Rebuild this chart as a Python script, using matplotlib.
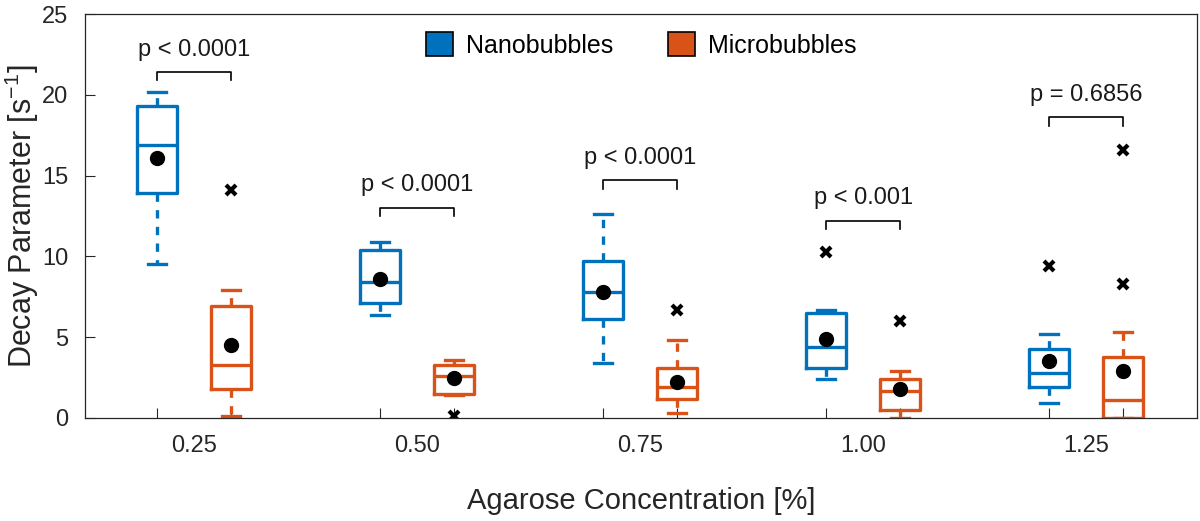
import matplotlib
matplotlib.use("Agg")
from matplotlib import pyplot as plt
from matplotlib.patches import Patch
import numpy as np

plt.rcParams["font.family"] = ["Liberation Sans", "DejaVu Sans"]

# ----------------------
# Data
# ----------------------
concentrations = ["0.25", "0.50", "0.75", "1.00", "1.25"]

nano_whislo = [9.5, 6.4, 3.4, 2.4, 0.9]
nano_q1 = [13.9, 7.1, 6.1, 3.1, 1.9]
nano_med = [16.9, 8.4, 7.8, 4.4, 2.8]
nano_q3 = [19.3, 10.4, 9.7, 6.5, 4.3]
nano_whishi = [20.2, 10.9, 12.6, 6.7, 5.2]
nano_mean = [16.1, 8.6, 7.8, 4.9, 3.5]
nano_fliers = [[], [], [], [10.3], [9.4]]

micro_whislo = [0.1, 1.4, 0.3, 0.0, 0.0]
micro_q1 = [1.8, 1.5, 1.2, 0.5, 0.0]
micro_med = [3.3, 2.6, 1.9, 1.7, 1.1]
micro_q3 = [6.9, 3.3, 3.1, 2.4, 3.8]
micro_whishi = [7.9, 3.6, 4.8, 2.9, 5.3]
micro_mean = [4.5, 2.5, 2.2, 1.8, 2.9]
micro_fliers = [[14.1], [0.1], [6.7], [6.0], [16.6, 8.3]]

p_labels = ["p < 0.0001", "p < 0.0001", "p < 0.0001", "p < 0.001", "p = 0.6856"]
bracket_y = [21.4, 13.0, 14.7, 12.2, 18.6]

blue = "#0072BD"
orange = "#D95319"

# ----------------------
# Plotting
# ----------------------
fig = plt.figure(figsize=(12, 5.21), dpi=100)
ax = fig.add_axes([0.0708, 0.1977, 0.9267, 0.7754])

offset = 0.333
pos_nano = np.arange(len(concentrations))
pos_micro = pos_nano + offset


def make_stats(lo, q1, med, q3, hi, mean, fliers):
    return [
        {"whislo": lo[i], "q1": q1[i], "med": med[i], "q3": q3[i],
         "whishi": hi[i], "mean": mean[i], "fliers": fliers[i]}
        for i in range(len(lo))
    ]


def draw(stats, pos, color):
    ax.bxp(
        stats, positions=pos, widths=0.18, capwidths=0.08,
        showmeans=True, showfliers=True, patch_artist=False,
        boxprops=dict(color=color, lw=2.4),
        medianprops=dict(color=color, lw=2.4),
        whiskerprops=dict(color=color, lw=2.4, ls=(0, (2.5, 2.5))),
        capprops=dict(color=color, lw=2.4),
        meanprops=dict(marker="o", markerfacecolor="black", markeredgecolor="black", markersize=10),
        flierprops=dict(marker="x", markeredgecolor="black", markeredgewidth=3, markersize=7),
        manage_ticks=False,
    )


draw(make_stats(nano_whislo, nano_q1, nano_med, nano_q3, nano_whishi, nano_mean, nano_fliers),
     pos_nano, blue)
draw(make_stats(micro_whislo, micro_q1, micro_med, micro_q3, micro_whishi, micro_mean, micro_fliers),
     pos_micro, orange)

# significance brackets
for i in range(len(concentrations)):
    y = bracket_y[i]
    ax.plot([pos_nano[i], pos_nano[i], pos_micro[i], pos_micro[i]],
            [y - 0.5, y, y, y - 0.5], color="black", lw=1.2)
    ax.text((pos_nano[i] + pos_micro[i]) / 2, y + 1.4, p_labels[i],
            ha="center", va="center", fontsize=17, color="#1a1a1a")

ax.set_xlim(-0.323, 4.664)
ax.set_ylim(0, 25)
ax.set_yticks([0, 5, 10, 15, 20, 25])

ax.set_xticks(pos_nano + offset / 2, concentrations)
ax.set_xticks(np.concatenate([pos_nano, pos_micro]), minor=True)
ax.tick_params(axis="x", which="major", length=0, pad=12, labelsize=17, labelcolor="#262626")
ax.tick_params(axis="x", which="minor", direction="in", length=7, width=0.8, color="#262626")
ax.tick_params(axis="y", direction="in", length=7, width=0.8, color="#262626",
               labelsize=17, labelcolor="#262626", pad=12)

for s in ax.spines.values():
    s.set_color("#262626")
    s.set_linewidth(0.9)

ax.set_xlabel("Agarose Concentration [%]", fontsize=21, color="#262626", labelpad=22)
ax.set_ylabel("Decay Parameter [s$^{\\mathregular{-1}}$]", fontsize=22, color="#262626", labelpad=1)

handles = [Patch(facecolor=blue, edgecolor="black", lw=1.2),
           Patch(facecolor=orange, edgecolor="black", lw=1.2)]
ax.legend(handles, ["Nanobubbles", "Microbubbles"], loc="center", bbox_to_anchor=(0.5, 0.923),
          ncol=2, frameon=False, fontsize=18, handlelength=1.1, handleheight=1.1,
          handletextpad=0.5, columnspacing=2.2)

plt.savefig("out.png", dpi=100)
